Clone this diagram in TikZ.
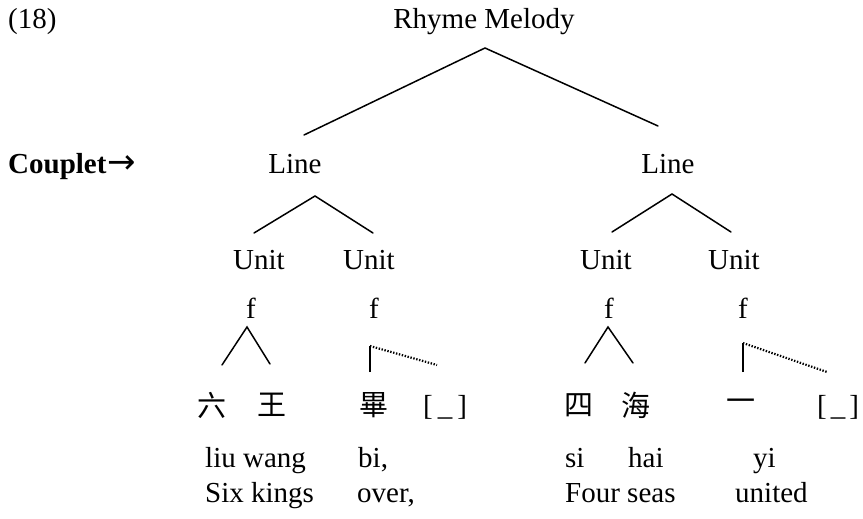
\documentclass[tikz,border=0pt]{standalone}
\usepackage{fontspec}
\setmainfont{Liberation Serif}
\newfontfamily\cjk{Noto Sans CJK TC}
\newfontfamily\arrowfont{DejaVu Sans}
\tikzset{
  lbl/.style={inner sep=0pt, anchor=base, font=\fontsize{29}{32}\selectfont},
  lblw/.style={inner sep=0pt, anchor=base west, font=\fontsize{29}{32}\selectfont},
  han/.style={inner sep=0pt, anchor=center, font=\cjk\fontsize{29}{32}\selectfont},
  edge/.style={line width=1.5pt, line cap=round},
  stem/.style={line width=1.2pt},
  dotline/.style={line width=2.2pt, dash pattern=on 1.4pt off 1.6pt}
}
\begin{document}
\begin{tikzpicture}[x=1pt,y=-1pt]
\useasboundingbox (0,0) rectangle (863,519);
% labels
\node[lblw] (ex) at (8,29) {(18)};
\node[lbl] (rm) at (484,29) {Rhyme Melody};
\node[lblw, font=\fontsize{29}{32}\selectfont\bfseries] (cp) at (8,173) {Couplet\kern1pt{\arrowfont\mdseries\fontsize{34}{36}\selectfont →}};
\node[lbl] (lineL) at (295,173) {Line};
\node[lbl] (lineR) at (668,173) {Line};
\node[lbl] (u1) at (259,269) {Unit};
\node[lbl] (u2) at (369,269) {Unit};
\node[lbl] (u3) at (606,269) {Unit};
\node[lbl] (u4) at (734,269) {Unit};
\node[lbl] (f1) at (251,318) {f};
\node[lbl] (f2) at (374,318) {f};
\node[lbl] (f3) at (609,318) {f};
\node[lbl] (f4) at (743,318) {f};
% characters
\node[han] (c1) at (212,405) {六};
\node[han] (c2) at (272,405) {王};
\node[han] (c3) at (374,405) {畢};
\node[lblw] (e1) at (423,415) {[\kern5pt\_\kern5pt]};
\node[han] (c4) at (579,405) {四};
\node[han] (c5) at (636,405) {海};
\node[han] (c6) at (741,405) {一};
\node[lblw] (e2) at (817,415) {[\kern4pt\_\kern4pt]};
% pinyin
\node[lblw] (p1) at (205,467) {liu wang};
\node[lblw] (p2) at (358,467) {bi,};
\node[lblw] (p3) at (565,467) {si};
\node[lblw] (p4) at (628,467) {hai};
\node[lblw] (p5) at (753,467) {yi};
% glosses
\node[lblw] (g1) at (205,502) {Six kings};
\node[lblw] (g2) at (357,502) {over,};
\node[lblw] (g3) at (565,502) {Four seas};
\node[lblw] (g4) at (735,502) {united};
% branch points
\coordinate (rmA) at (485,48);
\coordinate (rmL) at (304,135);
\coordinate (rmR) at (658,126);
\coordinate (lLA) at (315,196);
\coordinate (lL1) at (254,233);
\coordinate (lL2) at (373,233);
\coordinate (lRA) at (672,194);
\coordinate (lR1) at (612,232);
\coordinate (lR2) at (731,232);
\coordinate (t1A) at (247,327);
\coordinate (t1L) at (222,365);
\coordinate (t1R) at (270,364);
\coordinate (t2A) at (608,327);
\coordinate (t2L) at (585,363);
\coordinate (t2R) at (633,363);
\coordinate (d1T) at (370,346);
\coordinate (d1B) at (370,372);
\coordinate (d1E) at (437,365);
\coordinate (d2T) at (743,343);
\coordinate (d2B) at (743,372);
\coordinate (d2E) at (827,372);
% edges
\draw[edge] (rmL) -- (rmA) -- (rmR);
\draw[edge] (lL1) -- (lLA) -- (lL2);
\draw[edge] (lR1) -- (lRA) -- (lR2);
\draw[edge] (t1L) -- (t1A) -- (t1R);
\draw[edge] (t2L) -- (t2A) -- (t2R);
\draw[stem] (d1B) -- (d1T);
\draw[dotline] (d1T) -- (d1E);
\draw[stem] (d2B) -- (d2T);
\draw[dotline] (d2T) -- (d2E);
\end{tikzpicture}
\end{document}
